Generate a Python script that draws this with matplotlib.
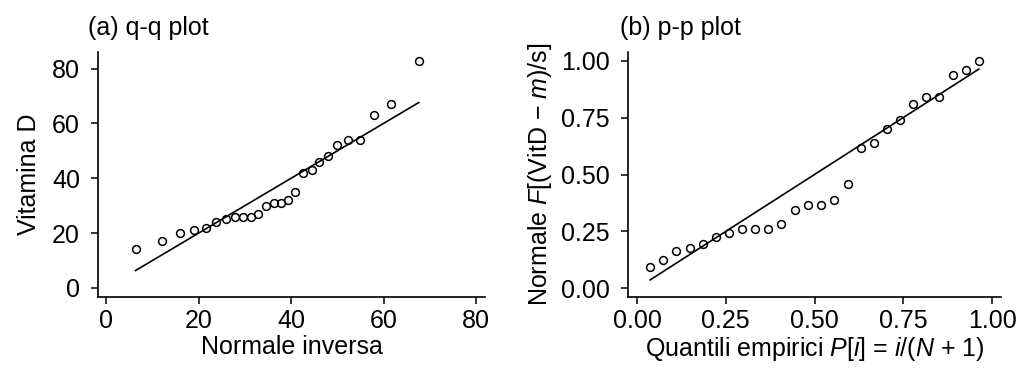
import numpy as np
import matplotlib
matplotlib.use("Agg")
import matplotlib.pyplot as plt

# (a) q-q plot: inverse normal vs vitamin D (sorted)
qq_x = [6.3, 12.1, 16.0, 19.0, 21.6, 23.8, 25.9, 27.8, 29.5, 31.3, 32.9, 34.5, 36.2,
        37.8, 39.4, 40.9, 42.6, 44.4, 46.1, 48.0, 50.0, 52.3, 54.8, 57.9, 61.7, 67.6]
qq_y = [14.1, 17.0, 20.0, 21.0, 22.0, 24.0, 25.0, 26.0, 26.0, 26.0, 27.1, 30.0, 31.0,
        31.0, 31.9, 35.0, 42.0, 43.0, 45.9, 48.0, 52.0, 54.0, 54.0, 62.9, 66.9, 82.9]

# (b) p-p plot: empirical quantiles vs normal cdf
pp_x = [0.037, 0.074, 0.111, 0.148, 0.185, 0.222, 0.259, 0.296, 0.333, 0.370, 0.407,
        0.444, 0.481, 0.519, 0.556, 0.593, 0.630, 0.667, 0.704, 0.741, 0.778, 0.815,
        0.852, 0.889, 0.926, 0.963]
pp_y = [0.092, 0.124, 0.163, 0.177, 0.193, 0.227, 0.245, 0.262, 0.262, 0.262, 0.283,
        0.344, 0.366, 0.366, 0.388, 0.458, 0.618, 0.638, 0.701, 0.741, 0.811, 0.840,
        0.840, 0.936, 0.960, 0.997]

plt.rcParams['font.family'] = ['Liberation Sans', 'DejaVu Sans']
plt.rcParams['mathtext.fontset'] = 'custom'
plt.rcParams['mathtext.rm'] = 'Liberation Sans'
plt.rcParams['mathtext.it'] = 'Liberation Sans:italic'

W, H = 1016, 368
fig = plt.figure(figsize=(W / 100, H / 100), dpi=100)


def px_axes(l, t, r, b):
    return fig.add_axes([l / W, 1 - b / H, (r - l) / W, (b - t) / H])


fs = 18


def style(ax):
    for s in ['top', 'right']:
        ax.spines[s].set_visible(False)
    for s in ['left', 'bottom']:
        ax.spines[s].set_linewidth(1.2)
    ax.tick_params(axis='both', length=5, width=1.1, labelsize=fs)
    ax.tick_params(axis='x', pad=4)
    ax.tick_params(axis='y', pad=8)


mk = dict(marker='o', ms=5.6, mfc='none', mec='black', mew=1.1, ls='none')

# panel (a)
ax1 = px_axes(98, 52, 485, 297)
style(ax1)
ax1.plot(qq_x, qq_y, **mk)
lo, hi = min(qq_x), max(qq_x)
ax1.plot([lo, hi], [lo, hi], color='black', lw=1.2)
ax1.set_xlim(-1.82, 81.95)
ax1.set_ylim(-3.35, 86.05)
ax1.set_xticks([0, 20, 40, 60, 80])
ax1.set_yticks([0, 20, 40, 60, 80])
ax1.set_xlabel('Normale inversa', fontsize=fs, labelpad=1)
ax1.set_ylabel('Vitamina D', fontsize=fs, labelpad=8)
fig.text(88 / W, 1 - 35 / H, '(a) q-q plot', fontsize=fs, ha='left', va='baseline')

# panel (b)
ax2 = px_axes(628, 52, 1001, 297)
style(ax2)
ax2.plot(pp_x, pp_y, **mk)
lo, hi = min(pp_x), max(pp_x)
ax2.plot([lo, hi], [lo, hi], color='black', lw=1.2)
ax2.set_xlim(-0.0253, 1.0253)
ax2.set_ylim(-0.038, 1.038)
ticks = [0, 0.25, 0.5, 0.75, 1.0]
ax2.set_xticks(ticks)
ax2.set_yticks(ticks)
ax2.set_xticklabels(['0.00', '0.25', '0.50', '0.75', '1.00'])
ax2.set_yticklabels(['0.00', '0.25', '0.50', '0.75', '1.00'])
ax2.set_xlabel('Quantili empirici $P$[$i$] = $i$/($N$ + 1)', fontsize=fs, labelpad=1)
ax2.set_ylabel('Normale $F$[(VitD \u2212 $m$)/s]', fontsize=fs, labelpad=5)
fig.text(620 / W, 1 - 35 / H, '(b) p-p plot', fontsize=fs, ha='left', va='baseline')

fig.savefig('out.png', dpi=100)
